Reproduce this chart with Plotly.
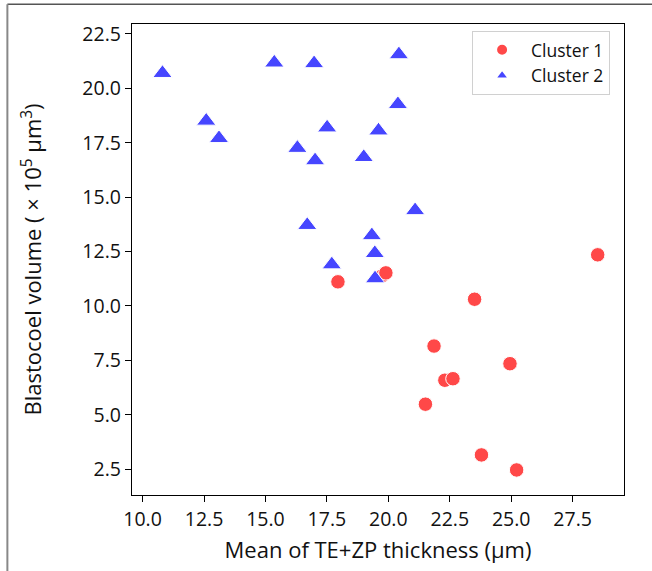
import plotly.graph_objects as go

# Cluster 1 (red circles)
c1_x = [17.95, 19.77, 19.90, 28.52, 23.51, 21.86, 24.95, 22.30, 22.63, 21.51, 23.79, 25.22]
c1_y = [11.11, 11.41, 11.52, 12.35, 10.31, 8.16, 7.35, 6.59, 6.66, 5.49, 3.16, 2.47]

# Cluster 2 (blue triangles)
c2_x = [10.81, 12.59, 13.11, 15.36, 16.98, 20.43, 20.39, 17.51, 16.30, 17.02,
        19.60, 19.00, 21.09, 16.70, 19.33, 19.45, 17.70, 19.46]
c2_y = [20.69, 18.50, 17.70, 21.17, 21.14, 21.55, 19.26, 18.19, 17.25, 16.68,
        18.05, 16.83, 14.39, 13.71, 13.24, 12.42, 11.90, 11.26]

x_ticks = [10.0, 12.5, 15.0, 17.5, 20.0, 22.5, 25.0, 27.5]
y_ticks = [2.5, 5.0, 7.5, 10.0, 12.5, 15.0, 17.5, 20.0, 22.5]

FONT = "Open Sans"

fig = go.Figure()
fig.add_trace(go.Scatter(
    x=c1_x, y=c1_y, mode="markers", name="Cluster 1",
    marker=dict(symbol="circle", size=14.5, color="#FF4848",
                line=dict(color="white", width=1)),
))
fig.add_trace(go.Scatter(
    x=c2_x, y=c2_y, mode="markers", name="Cluster 2",
    marker=dict(symbol="triangle-up", size=17, color="#4646FF",
                line=dict(color="white", width=1)),
))

W, H = 652, 571
L, R, T, B = 131.7, 624.0, 24.0, 502.0
pw, ph = R - L, B - T


def px2paper(px, py):
    return (px - L) / pw, (B - py) / ph


fx0, fy0 = px2paper(7, 4)
fx1, _ = px2paper(660, 4)
_, fy1 = px2paper(7, 600)

fig.update_layout(
    width=W, height=H,
    margin=dict(l=L, r=W - R, t=T, b=H - B),
    paper_bgcolor="white", plot_bgcolor="white",
    font=dict(family=FONT, color="#111111", size=19),
    showlegend=True,
    legend=dict(
        x=px2paper(472, 31)[0], y=px2paper(472, 31)[1],
        xanchor="left", yanchor="top",
        bgcolor="white", bordercolor="#d0d0d0", borderwidth=1,
        font=dict(family=FONT, size=17.5, color="#111111"),
        itemsizing="constant",
        itemwidth=48,
        tracegroupgap=0,
    ),
    shapes=[
        dict(type="line", xref="paper", yref="paper", x0=fx0, y0=fy0, x1=fx1, y1=fy0,
             line=dict(color="#555555", width=1.5)),
        dict(type="line", xref="paper", yref="paper", x0=fx0, y0=fy0, x1=fx0, y1=fy1,
             line=dict(color="#888888", width=2)),
    ],
)

fig.update_xaxes(
    range=[9.57, 29.59], tickvals=x_ticks, tickformat=".1f",
    showgrid=False, zeroline=False,
    showline=True, linecolor="black", linewidth=1.3, mirror=True,
    ticks="outside", ticklen=6, tickwidth=1.3, tickcolor="black",
    tickfont=dict(size=19.5, family=FONT),
    title=dict(text="Mean of TE+ZP thickness (µm)", font=dict(size=22, family=FONT), standoff=12),
)
fig.update_yaxes(
    range=[1.32, 22.95], tickvals=y_ticks, tickformat=".1f",
    showgrid=False, zeroline=False,
    showline=True, linecolor="black", linewidth=1.3, mirror=True,
    ticks="outside", ticklen=6, tickwidth=1.3, tickcolor="black",
    tickfont=dict(size=19.5, family=FONT),
    title=dict(text="Blastocoel volume ( × 10<sup>5</sup> µm<sup>3</sup>)",
               font=dict(size=22, family=FONT), standoff=34),
)

fig.write_html("out.html")
